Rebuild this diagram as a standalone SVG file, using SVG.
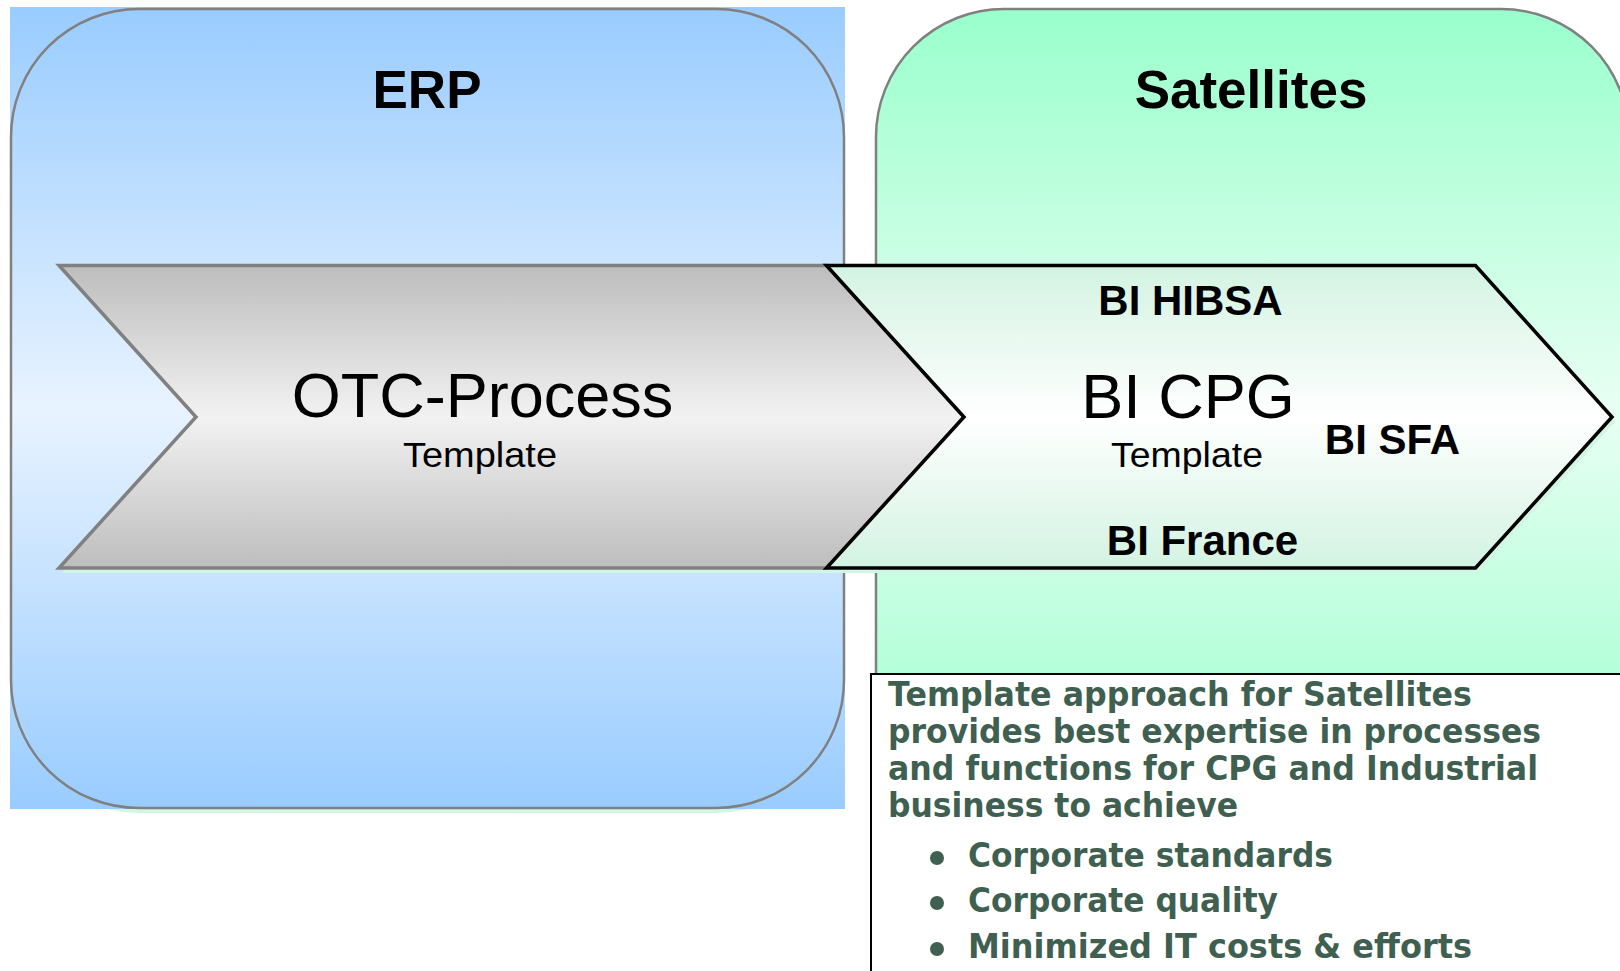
<svg xmlns="http://www.w3.org/2000/svg" width="1620" height="971" viewBox="0 0 1620 971">
  <defs>
    <linearGradient id="gBlue" x1="0" y1="0" x2="0" y2="1">
      <stop offset="0" stop-color="#99ccff"/>
      <stop offset="0.5" stop-color="#e8f3ff"/>
      <stop offset="1" stop-color="#99ccff"/>
    </linearGradient>
    <linearGradient id="gGreen" x1="0" y1="0" x2="0" y2="1">
      <stop offset="0" stop-color="#99ffcc"/>
      <stop offset="0.5" stop-color="#e8fff3"/>
      <stop offset="1" stop-color="#99ffcc"/>
    </linearGradient>
    <linearGradient id="gGray" x1="0" y1="0" x2="0" y2="1">
      <stop offset="0" stop-color="#bdbdbd"/>
      <stop offset="0.5" stop-color="#f2f2f2"/>
      <stop offset="1" stop-color="#bdbdbd"/>
    </linearGradient>
    <linearGradient id="gMint" x1="0" y1="0" x2="0" y2="1">
      <stop offset="0" stop-color="#d3f3e2"/>
      <stop offset="0.5" stop-color="#ffffff"/>
      <stop offset="1" stop-color="#d3f3e2"/>
    </linearGradient>
  </defs>
  <style>
    .title { font-family: "Liberation Sans", Arial, sans-serif; font-weight: bold; font-size: 53px; fill: #000; text-anchor: middle; }
    .big { font-family: "Liberation Sans", Arial, sans-serif; font-size: 63px; fill: #000; text-anchor: middle; }
    .sub { font-family: "Liberation Sans", Arial, sans-serif; font-size: 35px; fill: #000; text-anchor: middle; }
    .bi { font-family: "Liberation Sans", Arial, sans-serif; font-weight: bold; font-size: 42px; fill: #000; text-anchor: middle; }
    .note { font-family: "DejaVu Sans", Verdana, sans-serif; font-weight: bold; font-size: 33px; fill: #3f5f51; }
    .shadow { fill: #d2f6e4; }
    .frame { stroke: #808080; stroke-width: 2.5; }
  </style>

  <g id="erp">
    <rect class="shadow" x="11" y="14" width="833" height="799" rx="128" ry="128"/>
    <rect x="10" y="7" width="835" height="802" fill="url(#gBlue)"/>
    <rect class="frame" x="11" y="9" width="833" height="799" rx="128" ry="128" fill="url(#gBlue)"/>
    <text class="title" x="427" y="108">ERP</text>
  </g>

  <g id="satellites">
    <rect class="frame" x="876" y="9" width="753" height="800" rx="128" ry="128" fill="url(#gGreen)"/>
    <text class="title" x="1251" y="108">Satellites</text>
  </g>

  <g id="otc-process">
    <polygon class="shadow" points="62,270 829,270 967,422 829,573 62,573 199,422"/>
    <polygon points="59,265.5 826.5,265.5 964,417 826.5,568 59,568 196,417" fill="url(#gGray)" stroke="#808080" stroke-width="3.5" stroke-linejoin="miter"/>
    <text class="big" x="482.5" y="417">OTC-Process</text>
    <text class="sub" x="480" y="467" textLength="154" lengthAdjust="spacingAndGlyphs">Template</text>
  </g>

  <g id="bi-cpg">
    <polygon class="shadow" points="829,270 1478,270 1615,422 1478,573 829,573 967,422"/>
    <polygon points="826.5,265.5 1475.5,265.5 1612,417 1475.5,568 826.5,568 964,417" fill="url(#gMint)" stroke="#000" stroke-width="3.5" stroke-linejoin="miter"/>
    <text class="bi" x="1190.5" y="315">BI HIBSA</text>
    <text class="big" x="1188" y="418">BI CPG</text>
    <text class="sub" x="1187" y="467" textLength="152" lengthAdjust="spacingAndGlyphs">Template</text>
    <text class="bi" x="1392.5" y="454">BI SFA</text>
    <text class="bi" x="1202.5" y="555">BI France</text>
  </g>

  <g id="note">
    <rect x="871" y="674" width="770" height="320" fill="#ffffff" stroke="#000" stroke-width="2"/>
    <text class="note" x="888" y="706" textLength="584" lengthAdjust="spacingAndGlyphs">Template approach for Satellites</text>
    <text class="note" x="888" y="743" textLength="653" lengthAdjust="spacingAndGlyphs">provides best expertise in processes</text>
    <text class="note" x="888" y="780" textLength="650" lengthAdjust="spacingAndGlyphs">and functions for CPG and Industrial</text>
    <text class="note" x="888" y="817" textLength="350" lengthAdjust="spacingAndGlyphs">business to achieve</text>
    <circle cx="937" cy="858" r="7" fill="#3f5f51"/>
    <text class="note" x="968" y="867" textLength="365" lengthAdjust="spacingAndGlyphs">Corporate standards</text>
    <circle cx="937" cy="903" r="7" fill="#3f5f51"/>
    <text class="note" x="968" y="912" textLength="310" lengthAdjust="spacingAndGlyphs">Corporate quality</text>
    <circle cx="937" cy="949" r="7" fill="#3f5f51"/>
    <text class="note" x="968" y="958" textLength="504" lengthAdjust="spacingAndGlyphs">Minimized IT costs &amp; efforts</text>
  </g>

  <g id="connectors"/>
</svg>
